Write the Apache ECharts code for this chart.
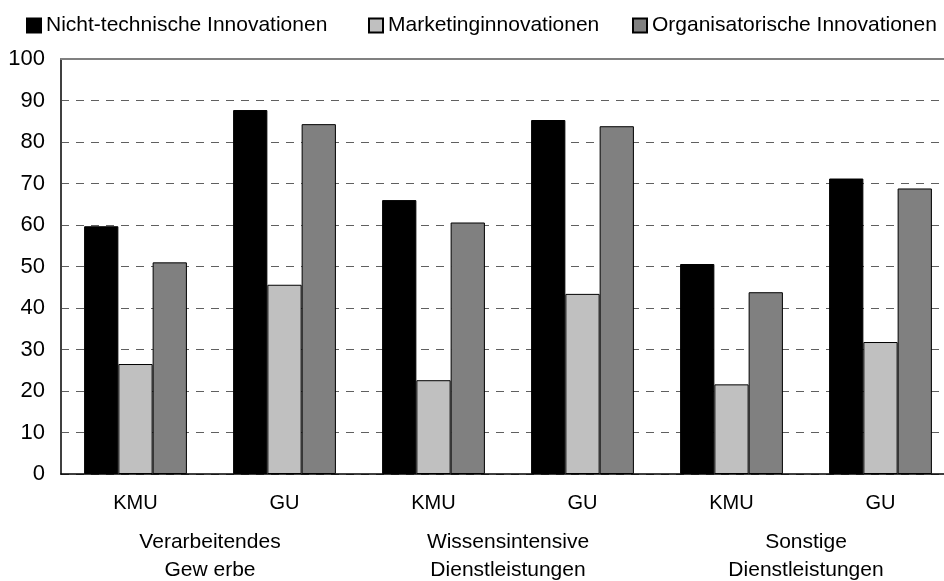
<!DOCTYPE html>
<html>
<head>
<meta charset="utf-8">
<script src="https://cdn.jsdelivr.net/npm/echarts@6/dist/echarts.min.js"></script>
<style>
  html, body { margin: 0; padding: 0; background: #fff; }
  #chart { width: 944px; height: 581px; }
</style>
</head>
<body>
<div id="chart"></div>
<script>
// categories
var sizes = ['KMU', 'GU', 'KMU', 'GU', 'KMU', 'GU']
var sectors = ['Verarbeitendes\nGew erbe', 'Wissensintensive\nDienstleistungen', 'Sonstige\nDienstleistungen']
var seriesNames = ['Nicht-technische Innovationen', 'Marketinginnovationen', 'Organisatorische Innovationen']

// values (percent)
var nichtTechnisch = [59.7, 87.7, 66.0, 85.3, 50.6, 71.2]
var marketing = [26.5, 45.6, 22.6, 43.4, 21.6, 31.8]
var organisatorisch = [51.0, 84.3, 60.6, 83.8, 43.8, 68.8]

var colors = ['#000000', '#c0c0c0', '#808080']
var font = 'Liberation Sans, Arial, sans-serif'
var legendLeft = [21, 363, 627]

var myChart = echarts.init(document.getElementById('chart'))

function bar(name, data, i) {
  return {
    name: name,
    type: 'bar',
    xAxisIndex: 0,
    data: data,
    barGap: '0%',
    barCategoryGap: '31%',
    itemStyle: { color: colors[i], borderColor: '#000', borderWidth: 1 }
  }
}

// one legend per entry so each sits where it does in the original
function legend(i) {
  return {
    top: 10,
    left: legendLeft[i],
    itemWidth: 14,
    itemHeight: 14,
    icon: 'rect',
    textStyle: { fontSize: 21, color: '#000', fontFamily: font },
    data: [seriesNames[i]]
  }
}

var option = {
  animation: false,
  textStyle: { fontFamily: font },
  legend: [legend(0), legend(1), legend(2)],
  grid: { left: 61, right: -11, top: 59, bottom: 107, outerBoundsMode: 'none', containLabel: false },
  xAxis: [
    {
      type: 'category',
      data: sizes,
      axisLine: { lineStyle: { color: '#000', width: 1.5 } },
      axisTick: { show: false },
      axisLabel: { fontSize: 20, color: '#000', margin: 19 }
    },
    {
      type: 'category',
      data: sectors,
      position: 'bottom',
      offset: 54,
      axisLine: { show: false },
      axisTick: { show: false },
      axisLabel: { fontSize: 21, color: '#000', lineHeight: 28, margin: 0, verticalAlign: 'top' }
    },
    {
      type: 'category',
      data: sizes,
      position: 'top',
      axisLine: { show: true, lineStyle: { color: '#808080', width: 2 } },
      axisTick: { show: false },
      axisLabel: { show: false }
    }
  ],
  yAxis: {
    type: 'value',
    min: 0,
    max: 100,
    interval: 10,
    axisLine: { show: true, lineStyle: { color: '#404040', width: 2 } },
    axisTick: { show: false },
    axisLabel: { fontSize: 22, color: '#000', margin: 16 },
    splitLine: { lineStyle: { color: '#606060', type: [8, 7], width: 1 } }
  },
  series: [
    bar(seriesNames[0], nichtTechnisch, 0),
    bar(seriesNames[1], marketing, 1),
    bar(seriesNames[2], organisatorisch, 2)
  ]
}
myChart.setOption(option)
window.addEventListener('resize', function () {
  myChart.resize()
})
</script>
</body>
</html>
